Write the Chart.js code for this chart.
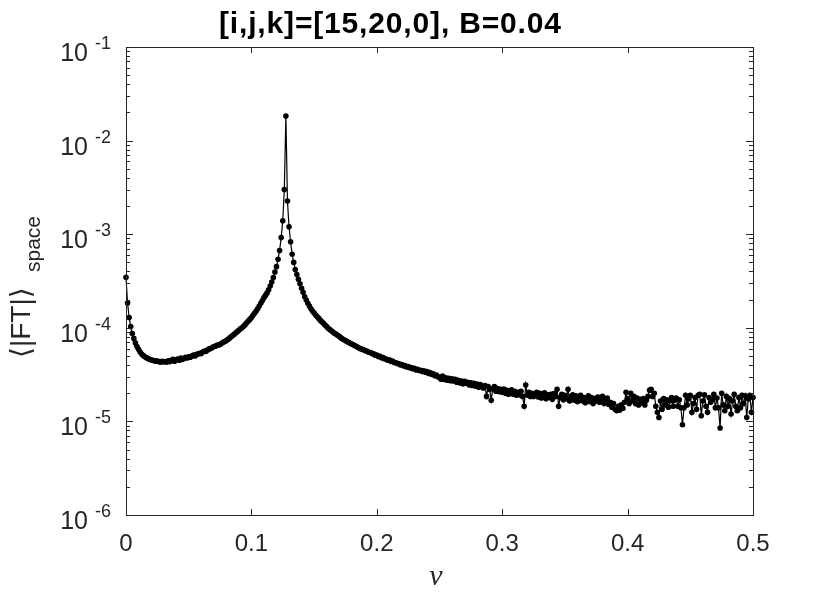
<!DOCTYPE html>
<html>
<head>
<meta charset="utf-8">
<script src="https://cdn.jsdelivr.net/npm/chart.js@4"></script>
<style>
html,body{margin:0;padding:0;background:#fff;}
canvas{display:block;}
</style>
</head>
<body>
<canvas id="c" width="830" height="598"></canvas>
<script>
// ---- data ----
const titleText = "[i,j,k]=[15,20,0], B=0.04";
const nuStep = 0.5 / 400;            // frequency grid spacing (FFT bins)
const amp = [
3.47e-4,1.84e-4,1.29e-4,1.03e-4,8.7e-5,7.7e-5,6.9e-5,6.3e-5,5.9e-5,5.5e-5,
5.25e-5,5.05e-5,4.9e-5,4.8e-5,4.7e-5,4.6e-5,4.55e-5,4.5e-5,4.45e-5,4.4e-5,
4.42e-5,4.35e-5,4.3e-5,4.38e-5,4.32e-5,4.36e-5,4.3e-5,4.45e-5,4.35e-5,4.5e-5,
4.6e-5,4.4e-5,4.55e-5,4.65e-5,4.5e-5,4.75e-5,4.6e-5,4.7e-5,4.85e-5,4.75e-5,
4.9e-5,4.85e-5,5.0e-5,5.1e-5,5.0e-5,5.2e-5,5.25e-5,5.35e-5,5.3e-5,5.5e-5,
5.65e-5,5.6e-5,5.8e-5,5.95e-5,6.0e-5,6.15e-5,6.3e-5,6.35e-5,6.5e-5,6.55e-5,
6.65e-5,6.85e-5,7.0e-5,7.15e-5,7.3e-5,7.5e-5,7.75e-5,8.0e-5,8.25e-5,8.5e-5,
8.8e-5,9.1e-5,9.4e-5,9.75e-5,1.0e-4,1.04e-4,1.08e-4,1.13e-4,1.18e-4,1.23e-4,
1.29e-4,1.36e-4,1.43e-4,1.51e-4,1.6e-4,1.71e-4,1.83e-4,1.96e-4,2.1e-4,2.22e-4,
2.36e-4,2.55e-4,2.8e-4,3.08e-4,3.45e-4,3.94e-4,4.5e-4,5.4e-4,6.7e-4,9.2e-4,
1.39e-3,3.0e-3,1.83e-2,2.26e-3,1.2e-3,8.3e-4,6.1e-4,5.0e-4,4.2e-4,3.7e-4,
3.3e-4,2.95e-4,2.65e-4,2.4e-4,2.15e-4,1.98e-4,1.83e-4,1.71e-4,1.6e-4,1.51e-4,
1.44e-4,1.37e-4,1.31e-4,1.26e-4,1.2e-4,1.16e-4,1.12e-4,1.07e-4,1.03e-4,9.9e-5,
9.6e-5,9.3e-5,9.0e-5,8.75e-5,8.55e-5,8.3e-5,8.1e-5,7.85e-5,7.65e-5,7.45e-5,
7.3e-5,7.15e-5,7.0e-5,6.85e-5,6.7e-5,6.6e-5,6.45e-5,6.3e-5,6.2e-5,6.05e-5,
5.95e-5,5.85e-5,5.8e-5,5.65e-5,5.6e-5,5.45e-5,5.45e-5,5.3e-5,5.28e-5,5.1e-5,
5.1e-5,4.95e-5,4.95e-5,4.8e-5,4.8e-5,4.65e-5,4.65e-5,4.5e-5,4.55e-5,4.38e-5,
4.4e-5,4.25e-5,4.25e-5,4.15e-5,4.15e-5,4.0e-5,4.05e-5,3.92e-5,3.95e-5,3.82e-5,
3.85e-5,3.75e-5,3.75e-5,3.65e-5,3.7e-5,3.55e-5,3.6e-5,3.5e-5,3.52e-5,3.42e-5,
3.48e-5,3.35e-5,3.4e-5,3.25e-5,3.32e-5,3.18e-5,3.22e-5,3.08e-5,3.12e-5,3.0e-5,
2.95e-5,2.82e-5,3.05e-5,2.8e-5,2.92e-5,2.75e-5,2.88e-5,2.72e-5,2.85e-5,2.7e-5,
2.82e-5,2.62e-5,2.75e-5,2.58e-5,2.7e-5,2.52e-5,2.68e-5,2.55e-5,2.62e-5,2.45e-5,
2.58e-5,2.42e-5,2.55e-5,2.38e-5,2.5e-5,2.32e-5,2.48e-5,2.35e-5,2.28e-5,2.42e-5,
1.85e-5,2.35e-5,2.2e-5,1.68e-5,2.25e-5,2.35e-5,2.1e-5,2.25e-5,2.08e-5,2.2e-5,
2.05e-5,2.22e-5,2.0e-5,2.15e-5,1.95e-5,2.12e-5,2.18e-5,1.95e-5,2.1e-5,1.9e-5,
2.05e-5,1.92e-5,2.1e-5,1.85e-5,1.45e-5,2.45e-5,1.9e-5,2.05e-5,1.85e-5,2.0e-5,
1.85e-5,1.98e-5,2.05e-5,1.82e-5,2.0e-5,1.78e-5,1.95e-5,2.02e-5,1.75e-5,1.92e-5,
1.8e-5,1.95e-5,1.72e-5,1.98e-5,1.85e-5,2.2e-5,1.45e-5,1.8e-5,1.95e-5,1.7e-5,
1.9e-5,1.75e-5,2.2e-5,1.65e-5,1.85e-5,1.92e-5,1.68e-5,1.88e-5,1.62e-5,1.82e-5,
1.9e-5,1.65e-5,1.8e-5,1.58e-5,1.78e-5,1.88e-5,1.62e-5,1.8e-5,1.55e-5,1.75e-5,
1.65e-5,1.82e-5,1.6e-5,1.75e-5,1.85e-5,1.55e-5,1.7e-5,1.78e-5,1.52e-5,1.6e-5,
1.42e-5,1.55e-5,1.35e-5,1.3e-5,1.45e-5,1.32e-5,1.5e-5,1.38e-5,1.6e-5,2.05e-5,
1.75e-5,1.55e-5,2.0e-5,1.65e-5,1.85e-5,1.55e-5,1.78e-5,1.5e-5,1.72e-5,1.58e-5,
1.75e-5,1.5e-5,1.68e-5,1.85e-5,2.15e-5,2.2e-5,1.85e-5,2.0e-5,1.45e-5,1.25e-5,
1.1e-5,1.65e-5,1.35e-5,1.75e-5,1.5e-5,1.7e-5,1.42e-5,1.65e-5,1.8e-5,1.45e-5,
1.68e-5,1.78e-5,1.45e-5,1.7e-5,1.4e-5,9.2e-6,1.4e-5,1.9e-5,1.5e-5,1.75e-5,
1.9e-5,1.25e-5,1.55e-5,1.8e-5,1.35e-5,1.9e-5,1.95e-5,1.15e-5,1.65e-5,1.92e-5,
1.45e-5,1.25e-5,1.8e-5,1.6e-5,1.7e-5,1.95e-5,1.4e-5,1.78e-5,1.4e-5,8.5e-6,
2.0e-5,1.5e-5,1.3e-5,1.85e-5,1.45e-5,1.75e-5,1.2e-5,1.65e-5,1.95e-5,1.45e-5,
1.3e-5,1.8e-5,1.4e-5,1.9e-5,1.55e-5,1.88e-5,1.1e-5,1.75e-5,1.9e-5,1.25e-5,
1.8e-5
];
const nu = amp.map((_, k) => k * nuStep);
const xTickValues = [0, 0.1, 0.2, 0.3, 0.4, 0.5];
const xTickLabels = ["0", "0.1", "0.2", "0.3", "0.4", "0.5"];
const yTickExponents = [-6, -5, -4, -3, -2, -1];
const yTickLabels = ["-6", "-5", "-4", "-3", "-2", "-1"];

const points = nu.map((v, i) => ({ x: v, y: amp[i] }));

const AX = '#262626';
const SANS = '"Liberation Sans", Arial, Helvetica, sans-serif';

const matlabAxes = {
  id: 'matlabAxes',
  afterDatasetsDraw(chart) {
    const ctx = chart.ctx;
    const ca = chart.chartArea;
    const xs = chart.scales.x, ys = chart.scales.y;
    ctx.save();
    ctx.strokeStyle = AX;
    ctx.lineWidth = 1;
    ctx.strokeRect(Math.round(ca.left) + 0.5, Math.round(ca.top) + 0.5,
                   Math.round(ca.right - ca.left), Math.round(ca.bottom - ca.top));
    ctx.fillStyle = AX;
    ctx.font = '24px ' + SANS;
    ctx.textAlign = 'center';
    ctx.textBaseline = 'middle';
    xTickValues.forEach((v, i) => {
      const px = Math.round(xs.getPixelForValue(v)) + 0.5;
      ctx.beginPath();
      ctx.moveTo(px, ca.bottom); ctx.lineTo(px, ca.bottom - 6);
      ctx.moveTo(px, ca.top); ctx.lineTo(px, ca.top + 6);
      ctx.stroke();
      ctx.fillText(xTickLabels[i], xs.getPixelForValue(v), ca.bottom + 29);
    });
    for (let e = -6; e < -1; e++) {
      for (let m = 2; m <= 9; m++) {
        const py = Math.round(ys.getPixelForValue(m * Math.pow(10, e))) + 0.5;
        ctx.beginPath();
        ctx.moveTo(ca.left, py); ctx.lineTo(ca.left + 4, py);
        ctx.moveTo(ca.right, py); ctx.lineTo(ca.right - 4, py);
        ctx.stroke();
      }
    }
    yTickExponents.forEach((e, i) => {
      const yv = Math.pow(10, e);
      const py = Math.round(ys.getPixelForValue(yv)) + 0.5;
      ctx.beginPath();
      ctx.moveTo(ca.left, py); ctx.lineTo(ca.left + 7, py);
      ctx.moveTo(ca.right, py); ctx.lineTo(ca.right - 7, py);
      ctx.stroke();
      ctx.textBaseline = 'alphabetic';
      ctx.font = '25px ' + SANS;
      ctx.textAlign = 'right';
      ctx.fillText('10', 88, py + 13);
      ctx.font = '18px ' + SANS;
      ctx.textAlign = 'left';
      ctx.fillText(yTickLabels[i], 95, py + 1);
    });
    // title
    ctx.fillStyle = '#000';
    ctx.font = 'bold 30px ' + SANS;
    ctx.textAlign = 'left';
    ctx.textBaseline = 'alphabetic';
    const w = ctx.measureText(titleText).width;
    const ls = (342 - w) / (titleText.length - 1);
    if (ls > 0 && 'letterSpacing' in ctx) ctx.letterSpacing = ls.toFixed(2) + 'px';
    ctx.fillText(titleText, 219, 33);
    if ('letterSpacing' in ctx) ctx.letterSpacing = '0px';
    // x label
    ctx.fillStyle = AX;
    ctx.font = 'italic 30px "Liberation Serif", "Times New Roman", serif';
    ctx.textAlign = 'center';
    ctx.textBaseline = 'alphabetic';
    ctx.fillText('\u03BD', 436, 585);
    // y label (rotated)
    ctx.save();
    ctx.translate(22, 358);
    ctx.rotate(-Math.PI / 2);
    ctx.font = '28px "Liberation Sans", "DejaVu Sans", sans-serif';
    ctx.textAlign = 'left';
    ctx.textBaseline = 'middle';
    const main = '\u27E8|FT|\u27E9';
    ctx.fillText(main, 0, 0);
    const mw = ctx.measureText(main).width;
    ctx.font = '21px ' + SANS;
    ctx.fillText('space', Math.max(mw + 4, 86), 12);
    ctx.restore();
    ctx.restore();
  }
};

new Chart(document.getElementById('c'), {
  type: 'line',
  data: {
    datasets: [{
      data: points,
      borderColor: '#000',
      borderWidth: 1.2,
      backgroundColor: '#000',
      pointRadius: 2.8,
      pointBorderWidth: 0,
      pointBackgroundColor: '#000',
      tension: 0,
      fill: false,
      clip: false
    }]
  },
  options: {
    responsive: false,
    animation: false,
    devicePixelRatio: 1,
    layout: { padding: { left: 126, right: 77, top: 47, bottom: 83 } },
    plugins: { legend: { display: false }, tooltip: { enabled: false }, title: { display: false } },
    scales: {
      x: { type: 'linear', min: 0, max: 0.5, display: false },
      y: { type: 'logarithmic', min: 1e-6, max: 1e-1, display: false }
    }
  },
  plugins: [matlabAxes]
});
</script>
</body>
</html>
